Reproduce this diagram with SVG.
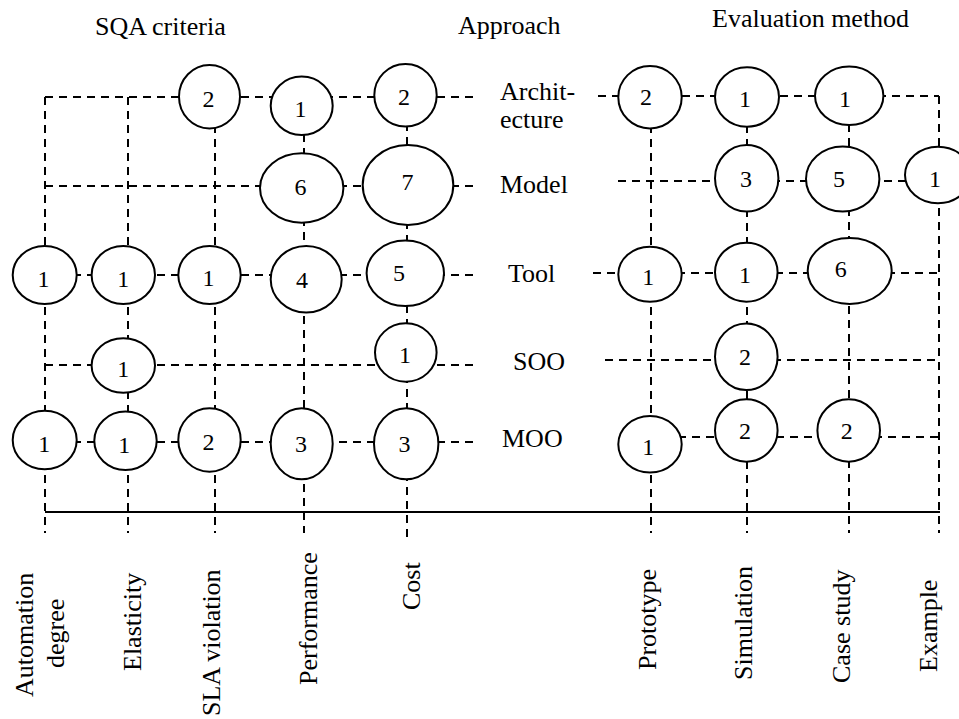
<svg xmlns="http://www.w3.org/2000/svg" width="959" height="719" viewBox="0 0 959 719">
<style>
.d{stroke:#000;stroke-width:2;stroke-dasharray:8 6;fill:none}
.s{stroke:#000;stroke-width:2;fill:none}
.n ellipse{fill:#fff;stroke:#000;stroke-width:2}
.n text{font-family:"Liberation Serif","Times New Roman",serif;font-size:24px;text-anchor:middle;fill:#000}
.t{font-family:"Liberation Serif","Times New Roman",serif;font-size:26px;fill:#000}
</style>
<rect width="959" height="719" fill="#fff"/>
<g id="connectors">
<path class="d" d="M45,97H478"/>
<path class="d" d="M45,186H478"/>
<path class="d" d="M45,275H478"/>
<path class="d" d="M45,365H478"/>
<path class="d" d="M45,442H478"/>
<path class="d" d="M45,97V533"/>
<path class="d" d="M128,97V533"/>
<path class="d" d="M215,97V533"/>
<path class="d" d="M304,106V533"/>
<path class="d" d="M407,95V540"/>
<path class="d" d="M598,96H939"/>
<path class="d" d="M618,181H939"/>
<path class="d" d="M593,273H939"/>
<path class="d" d="M605,360H939"/>
<path class="d" d="M650,437H939"/>
<path class="d" d="M651,97V533"/>
<path class="d" d="M747,97V533"/>
<path class="d" d="M849,96V533"/>
<path class="d" d="M939,96V533"/>
<path class="s" d="M45,512H940"/>
</g>
<g id="headers" class="t">
<text x="95" y="35">SQA criteria</text>
<text x="458" y="34">Approach</text>
<text x="712" y="27">Evaluation method</text>
</g>
<g id="rowlabels" class="t">
<text x="500" y="100">Archit-</text>
<text x="500" y="128">ecture</text>
<text x="500" y="193">Model</text>
<text x="508" y="282">Tool</text>
<text x="513" y="370">SOO</text>
<text x="502" y="447">MOO</text>
</g>
<g id="collabels" class="t">
<text transform="translate(33,697) rotate(-90)">Automation</text>
<text transform="translate(64,668) rotate(-90)">degree</text>
<text transform="translate(141,671) rotate(-90)">Elasticity</text>
<text transform="translate(220,716) rotate(-90)">SLA violation</text>
<text transform="translate(317,685) rotate(-90)">Performance</text>
<text transform="translate(420,610) rotate(-90)">Cost</text>
<text transform="translate(655.5,670) rotate(-90)">Prototype</text>
<text transform="translate(752,680) rotate(-90)">Simulation</text>
<text transform="translate(849.5,683) rotate(-90)">Case study</text>
<text transform="translate(937,672) rotate(-90)">Example</text>
</g>
<g id="arch-sla" class="n"><ellipse cx="209.5" cy="96.7" rx="30.5" ry="31.7"/><text x="208.5" y="106.5">2</text></g>
<g id="arch-perf" class="n"><ellipse cx="301.7" cy="105.8" rx="31" ry="29.2"/><text x="300.5" y="116.5">1</text></g>
<g id="arch-cost" class="n"><ellipse cx="405.5" cy="95.3" rx="31.2" ry="31.3"/><text x="404" y="105">2</text></g>
<g id="model-perf" class="n"><ellipse cx="301.7" cy="188" rx="41.7" ry="34.7"/><text x="300.5" y="195">6</text></g>
<g id="model-cost" class="n"><ellipse cx="408" cy="185" rx="45.3" ry="40"/><text x="407.5" y="189.5">7</text></g>
<g id="tool-auto" class="n"><ellipse cx="44.7" cy="275" rx="32" ry="29"/><text x="43.5" y="286.5">1</text></g>
<g id="tool-elast" class="n"><ellipse cx="123.3" cy="275" rx="31.7" ry="29"/><text x="123.3" y="286.5">1</text></g>
<g id="tool-sla" class="n"><ellipse cx="209.5" cy="275" rx="31.2" ry="29"/><text x="208.5" y="286">1</text></g>
<g id="tool-perf" class="n"><ellipse cx="306.2" cy="279.3" rx="35.5" ry="33.3"/><text x="302" y="288.3">4</text></g>
<g id="tool-cost" class="n"><ellipse cx="405.3" cy="273.3" rx="38.7" ry="32.7"/><text x="399" y="280.7">5</text></g>
<g id="soo-elast" class="n"><ellipse cx="123.3" cy="365.5" rx="31.7" ry="27.2"/><text x="123.3" y="376.7">1</text></g>
<g id="soo-cost" class="n"><ellipse cx="405.8" cy="352.5" rx="30.8" ry="29.2"/><text x="405" y="363.3">1</text></g>
<g id="moo-auto" class="n"><ellipse cx="44.7" cy="440" rx="32" ry="29.3"/><text x="44.3" y="451.7">1</text></g>
<g id="moo-elast" class="n"><ellipse cx="125.5" cy="440.8" rx="31.2" ry="29.2"/><text x="124.3" y="453.3">1</text></g>
<g id="moo-sla" class="n"><ellipse cx="209.5" cy="440" rx="31.2" ry="31.7"/><text x="208.5" y="450">2</text></g>
<g id="moo-perf" class="n"><ellipse cx="301.7" cy="443.8" rx="31" ry="35.5"/><text x="301" y="451.7">3</text></g>
<g id="moo-cost" class="n"><ellipse cx="406.2" cy="443.8" rx="32.2" ry="35.5"/><text x="404.5" y="451.7">3</text></g>
<g id="arch-proto" class="n"><ellipse cx="650" cy="97.2" rx="31.7" ry="31.2"/><text x="646" y="105">2</text></g>
<g id="arch-sim" class="n"><ellipse cx="747" cy="97" rx="32" ry="29.7"/><text x="745" y="106.7">1</text></g>
<g id="arch-case" class="n"><ellipse cx="849.2" cy="95.8" rx="34.2" ry="29.2"/><text x="845" y="106.7">1</text></g>
<g id="model-sim" class="n"><ellipse cx="746.7" cy="178.3" rx="31.7" ry="33.3"/><text x="746" y="186.7">3</text></g>
<g id="model-case" class="n"><ellipse cx="842.7" cy="179" rx="36.7" ry="32.5"/><text x="839" y="186.7">5</text></g>
<g id="model-example" class="n"><ellipse cx="938" cy="175" rx="33" ry="28.3"/><text x="935" y="186.7">1</text></g>
<g id="tool-proto" class="n"><ellipse cx="650" cy="274.2" rx="31.7" ry="27.5"/><text x="648.3" y="285">1</text></g>
<g id="tool-sim" class="n"><ellipse cx="746.3" cy="272.2" rx="31.3" ry="29.5"/><text x="745" y="283.3">1</text></g>
<g id="tool-case" class="n"><ellipse cx="849.7" cy="271" rx="42" ry="33"/><text x="840.8" y="276.7">6</text></g>
<g id="soo-sim" class="n"><ellipse cx="746.3" cy="356.7" rx="31.3" ry="33.3"/><text x="745" y="365">2</text></g>
<g id="moo-proto" class="n"><ellipse cx="650" cy="444.3" rx="31.7" ry="28.3"/><text x="648.3" y="455">1</text></g>
<g id="moo-sim" class="n"><ellipse cx="746.3" cy="430.5" rx="31.3" ry="31.2"/><text x="745" y="439.3">2</text></g>
<g id="moo-case" class="n"><ellipse cx="848.7" cy="430.5" rx="31.3" ry="31.2"/><text x="846.7" y="439.3">2</text></g>
</svg>
